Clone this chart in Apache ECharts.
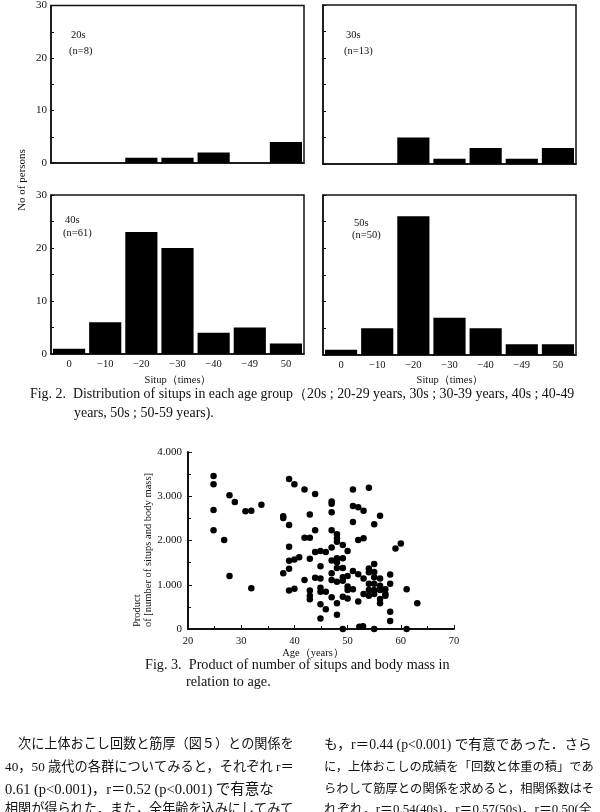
<!DOCTYPE html>
<html><head><meta charset="utf-8">
<script src="https://cdn.jsdelivr.net/npm/echarts@6/dist/echarts.min.js"></script>
<style>html,body{margin:0;padding:0;background:#fff}#c{width:600px;height:812px}</style>
</head><body><div id="c"></div>
<script>
// ---- data ----
const categories = ['0', '\u221210', '\u221220', '\u221230', '\u221240', '\u221249', '50'];
const counts20s = [0, 0, 1, 1, 2, 0, 4];
const counts30s = [0, 0, 5, 1, 3, 1, 3];
const counts40s = [1, 6, 23, 20, 4, 5, 2];
const counts50s = [1, 5, 26, 7, 5, 2, 2];
const panelNames = ['20s', '30s', '40s', '50s'];
const panelN = ['(n=8)', '(n=13)', '(n=61)', '(n=50)'];
const histYTicks = [0, 10, 20, 30];
const ages = [24.8,24.8,24.8,24.8,26.8,27.8,28.8,27.8,30.8,31.9,31.9,33.8,37.9,37.9,37.9,39.0,40.0,39.0,39.0,39.0,39.0,39.0,40.0,40.9,40.0,41.9,41.9,42.9,42.9,42.9,41.9,42.9,42.9,42.9,43.9,43.9,43.9,43.9,44.9,44.9,44.9,44.9,44.9,44.9,44.9,45.9,45.9,45.9,47.0,47.0,47.0,47.0,47.0,47.0,47.0,47.0,47.0,48.0,48.0,48.0,48.0,48.0,48.0,48.0,48.0,48.0,49.1,49.1,49.1,49.1,49.1,49.1,49.1,50.0,50.0,50.0,50.0,50.0,51.0,51.0,51.0,51.0,51.0,52.0,52.0,52.0,52.0,53.0,53.0,53.0,53.0,52.2,52.9,54.0,54.0,54.0,54.0,54.0,54.0,55.0,55.0,55.0,55.0,55.0,55.0,55.0,55.0,56.1,56.1,56.1,56.1,56.1,56.1,57.1,57.1,57.1,58.0,58.0,58.0,58.0,59.0,60.0,61.1,61.1,63.1];
const products = [3460,3270,2690,2230,2010,3020,2870,1200,2660,2670,920,2810,2550,2510,1260,3390,3270,2350,1860,1540,1360,870,1570,1620,910,3150,2060,2060,2590,1590,1110,870,750,670,3050,2230,1740,1160,1760,1420,1140,930,840,560,240,445,1740,840,2830,2880,2640,2230,1840,1550,1260,1110,720,2140,2050,1970,1600,1510,1380,1070,580,320,1900,1600,1380,1170,1090,730,0,1760,1200,960,880,690,3150,2780,2420,1310,900,2750,2010,1240,620,2670,2050,1140,790,50,60,3190,1370,1280,1020,880,750,2370,1470,1290,1170,1020,880,790,0,2560,1140,980,880,680,580,900,790,750,1230,1020,390,180,1820,1930,900,0,580];
const scatterXTicks = [20, 30, 40, 50, 60, 70];
const scatterYTicks = [0, 1000, 2000, 3000, 4000];

const serif = '"Liberation Serif","DejaVu Serif",serif';
const jp = '"Liberation Serif","Noto Sans CJK JP","Noto Sans CJK SC",serif';
const ink = '#111';

const mctx = document.createElement('canvas').getContext('2d');
function fitSize(text, family, base, target, lo, hi) {
  mctx.font = base + 'px ' + family;
  const w = mctx.measureText(text).width;
  let s = base * target / w;
  if (lo !== undefined) s = Math.max(lo, s);
  if (hi !== undefined) s = Math.min(hi, s);
  return s;
}

const histData = [counts20s, counts30s, counts40s, counts50s];
const grids = [
  {left: 51, top: 5, width: 253, height: 158},
  {left: 323, top: 5, width: 253, height: 159},
  {left: 51, top: 195, width: 253, height: 159},
  {left: 323, top: 195, width: 253, height: 160},
  {left: 188, top: 452, width: 266, height: 177}
];

const xAxes = [], yAxes = [], series = [];
for (let i = 0; i < 4; i++) {
  const bottom = i >= 2, left = i % 2 === 0;
  xAxes.push({
    type: 'category', gridIndex: i, data: categories,
    axisLine: {show: true, lineStyle: {color: ink, width: 1.5}},
    axisTick: {show: false},
    axisLabel: {show: bottom, color: ink, fontFamily: serif, fontSize: 10.5, margin: 5}
  });
  yAxes.push({
    type: 'value', gridIndex: i, min: histYTicks[0], max: histYTicks[histYTicks.length - 1], interval: 10,
    axisLine: {show: true, lineStyle: {color: ink, width: 1.5}},
    axisTick: {show: true, inside: true, length: 3, lineStyle: {color: ink}},
    minorTick: {show: true, splitNumber: 2, length: 3, lineStyle: {color: ink}},
    splitLine: {show: false},
    axisLabel: {show: left, color: ink, fontFamily: serif, fontSize: 11, margin: 4}
  });
  series.push({
    type: 'bar', xAxisIndex: i, yAxisIndex: i, data: histData[i],
    barCategoryGap: '11%', itemStyle: {color: '#000'}, silent: true
  });
}
xAxes.push({
  type: 'value', gridIndex: 4, min: scatterXTicks[0], max: scatterXTicks[scatterXTicks.length - 1], interval: 10,
  axisLine: {show: true, lineStyle: {color: ink, width: 2}},
  axisTick: {show: true, inside: true, length: 4, lineStyle: {color: ink}},
  minorTick: {show: true, splitNumber: 2, length: 3, lineStyle: {color: ink}},
  splitLine: {show: false},
  axisLabel: {color: ink, fontFamily: serif, fontSize: 10.5, margin: 7}
});
yAxes.push({
  type: 'value', gridIndex: 4, min: scatterYTicks[0], max: scatterYTicks[scatterYTicks.length - 1], interval: 1000,
  axisLine: {show: true, lineStyle: {color: ink, width: 2}},
  axisTick: {show: true, inside: true, length: 4, lineStyle: {color: ink}},
  minorTick: {show: true, splitNumber: 2, length: 3, lineStyle: {color: ink}},
  splitLine: {show: false},
  axisLabel: {color: ink, fontFamily: serif, fontSize: 11, margin: 6,
    formatter: v => v === 0 ? '0' : (v / 1000) + '.000'}
});
series.push({
  type: 'scatter', xAxisIndex: 4, yAxisIndex: 4, symbolSize: 6.5, clip: false,
  itemStyle: {color: '#000', opacity: 1}, silent: true,
  data: ages.map((a, k) => [a, products[k]])
});

function txt(x, y, text, opts) {
  opts = opts || {};
  const al = opts.align || 'left';
  return {
    type: 'text', x: x, y: y, rotation: opts.rotation || 0, silent: true,
    style: {
      text: text, fill: ink, fontFamily: opts.font || serif, fontSize: opts.size || 10,
      fontWeight: opts.weight || 'normal',
      align: al, textAlign: al, verticalAlign: 'middle', textVerticalAlign: 'middle'
    }
  };
}

const g = [];
const labelPos = [[71, 35, 51], [346, 35, 51], [65, 220, 233], [354, 223, 235]];
for (let i = 0; i < 4; i++) {
  g.push(txt(labelPos[i][0], labelPos[i][1], panelNames[i], {size: 10.5}));
  g.push(txt(labelPos[i][0] - 2, labelPos[i][2], panelN[i], {size: 10.5}));
}
g.push(txt(22, 180, 'No of persons', {size: 11, align: 'center', rotation: Math.PI / 2}));
g.push(txt(178, 380, 'Situp\uFF08times\uFF09', {size: 10.5, align: 'center'}));
g.push(txt(450, 380, 'Situp\uFF08times\uFF09', {size: 10.5, align: 'center'}));

const fig2a = 'Fig. 2.  Distribution of situps in each age group\uFF0820s ; 20-29 years, 30s ; 30-39 years, 40s ; 40-49';
const fig2Size = fitSize(fig2a, serif, 12, 545, 11, 15);
g.push(txt(30, 394, fig2a, {size: fig2Size}));
g.push(txt(74, 413, 'years, 50s ; 50-59 years).', {size: fig2Size}));
// scatter axis names
g.push(txt(137, 627, 'Product', {size: 10.5, rotation: Math.PI / 2}));
g.push(txt(148, 627, 'of [number of situps and body mass]', {size: 10.5, rotation: Math.PI / 2}));
g.push(txt(313, 653, 'Age\uFF08years\uFF09', {size: 10.5, align: 'center'}));
const fig3a = 'Fig. 3.  Product of number of situps and body mass in';
const fig3Size = fitSize(fig3a, serif, 12, 305, 11, 15);
g.push(txt(145, 665, fig3a, {size: fig3Size}));
g.push(txt(186, 682, 'relation to age.', {size: fig3Size}));
// Japanese body text
const leftLines = ['\u3000次に上体おこし回数と筋厚（図５）との関係を',
  '40，50 歳代の各群についてみると，それぞれ r＝',
  '0.61 (p<0.001)，r＝0.52 (p<0.001) で有意な',
  '相関が得られた．また，全年齢を込みにしてみて'];
const rightLines = ['も，r＝0.44 (p<0.001) で有意であった．さら',
  'に，上体おこしの成績を「回数と体重の積」であ',
  'らわして筋厚との関係を求めると，相関係数はそ',
  'れぞれ，r＝0.54(40s)，r＝0.57(50s)，r＝0.50(全'];
const lineY = [745, 768, 790, 810];
for (let k = 0; k < 4; k++) {
  g.push(txt(5, lineY[k], leftLines[k], {font: jp, size: fitSize(leftLines[k], jp, 13, 289, 12.5, 14.5)}));
  g.push(txt(324, lineY[k], rightLines[k], {font: jp, size: fitSize(rightLines[k], jp, 13, 268, 12.3, 14.5)}));
}

const chart = echarts.init(document.getElementById('c'), null, {renderer: 'canvas'});
chart.setOption({
  animation: false,
  backgroundColor: '#fff',
  grid: grids.map((gr, i) => Object.assign({}, gr, i < 4 ? {show: true, borderColor: ink, borderWidth: 1.5} : {})),
  xAxis: xAxes, yAxis: yAxes, series: series, graphic: g
});
</script></body></html>
